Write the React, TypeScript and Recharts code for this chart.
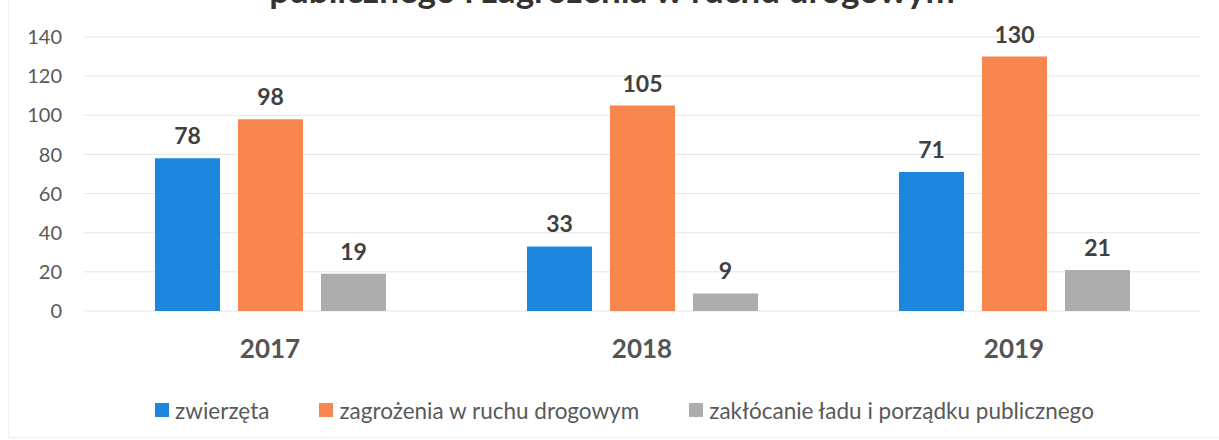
import { Bar, BarChart, CartesianGrid, LabelList, Legend, XAxis, YAxis } from "recharts";

const years = ["2017", "2018", "2019"];
const zwierzeta = [78, 33, 71];
const zagrozenia = [98, 105, 130];
const zaklocanie = [19, 9, 21];
const yTicks = [0, 20, 40, 60, 80, 100, 120, 140];

const series = [
	{ key: "zwierzeta", name: "zwierzęta", color: "#1c87dc" },
	{ key: "zagrozenia", name: "zagrożenia w ruchu drogowym", color: "#f8864f" },
	{ key: "zaklocanie", name: "zakłócanie ładu i porządku publicznego", color: "#adadad" },
];

const data = years.map((year, i) => ({
	year,
	zwierzeta: zwierzeta[i],
	zagrozenia: zagrozenia[i],
	zaklocanie: zaklocanie[i],
}));

const FONT = "Lato, 'Noto Sans', sans-serif";

function LegendRow() {
	return (
		<div
			style={{
				display: "flex",
				justifyContent: "center",
				alignItems: "center",
				height: 40,
				gap: 50,
				paddingLeft: 49,
				fontFamily: FONT,
				fontSize: 22.5,
				color: "#595959",
			}}
		>
			{series.map((s) => (
				<div key={s.key} style={{ display: "flex", alignItems: "center" }}>
					<span
						style={{
							display: "inline-block",
							width: 14,
							height: 14,
							background: s.color,
							marginRight: 6,
						}}
					/>
					<span>{s.name}</span>
				</div>
			))}
		</div>
	);
}

export default function App() {
	return (
		<div
			style={{
				position: "absolute",
				left: 0,
				top: 0,
				width: 1219,
				height: 440,
				background: "#fff",
				overflow: "hidden",
			}}
		>
			<div
				style={{
					position: "absolute",
					left: 8,
					top: -2,
					width: 1230,
					height: 438,
					border: "1px solid #eeeeee",
				}}
			/>
			<BarChart
				width={1219}
				height={440}
				data={data}
				margin={{ top: 37, right: 19, left: 0, bottom: 10 }}
				barSize={65}
				barGap={18}
			>
				<text
					x={612}
					y={3}
					textAnchor="middle"
					fontFamily={FONT}
					fontWeight={700}
					fontSize={35}
					fill="#333"
				>
					publicznego i zagrożenia w ruchu drogowym
				</text>
				<CartesianGrid vertical={false} stroke="#e6e6e6" />
				<XAxis
					dataKey="year"
					axisLine={false}
					tickLine={false}
					tickSize={0}
					tickMargin={29}
					height={79}
					tick={{ fontFamily: FONT, fontSize: 26, fontWeight: 700, fill: "#555" }}
				/>
				<YAxis
					width={84}
					domain={[0, 140]}
					ticks={yTicks}
					axisLine={false}
					tickLine={false}
					tickSize={0}
					tickMargin={22}
					tick={{ fontFamily: FONT, fontSize: 20, fill: "#595959" }}
				/>
				<Legend verticalAlign="bottom" content={() => <LegendRow />} />
				{series.map((s) => (
					<Bar key={s.key} dataKey={s.key} name={s.name} fill={s.color} isAnimationActive={false}>
						<LabelList
							dataKey={s.key}
							position="top"
							offset={14}
							style={{ fontFamily: FONT, fontSize: 23, fontWeight: 700, fill: "#404040" }}
						/>
					</Bar>
				))}
			</BarChart>
		</div>
	);
}
